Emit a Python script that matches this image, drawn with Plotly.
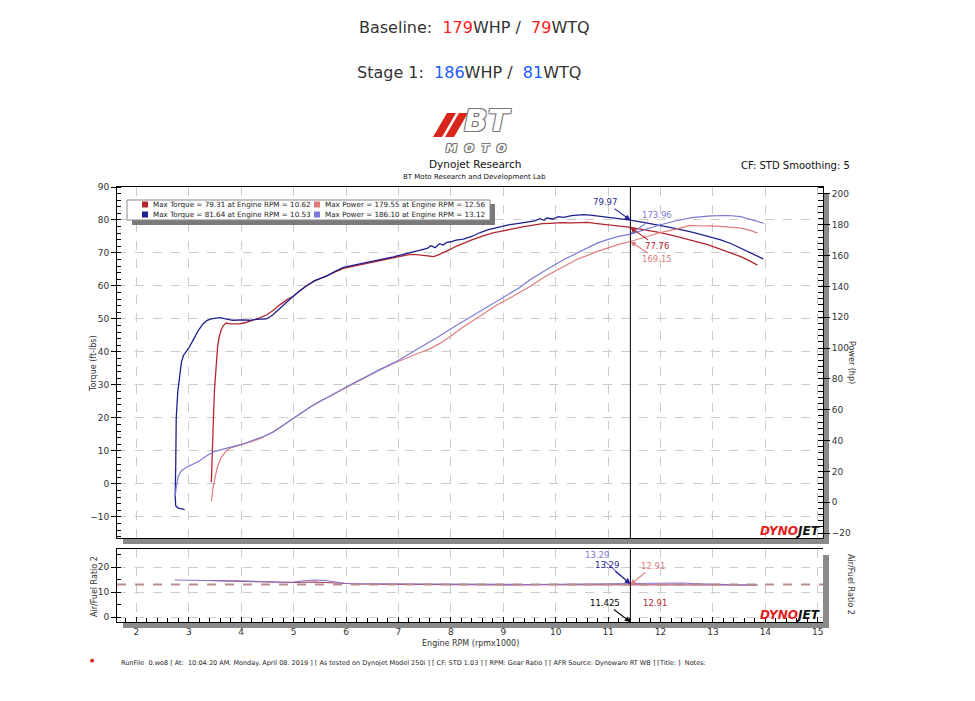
import plotly.graph_objects as go

# ---------------- DATA ----------------
s1_tq_rpm = [2.92, 2.86, 2.79, 2.75, 2.74, 2.75, 2.76, 2.79, 2.82, 2.86, 2.90, 3.00, 3.08, 3.18, 3.27, 3.35, 3.43, 3.59, 3.70, 3.84,
             4.00, 4.16, 4.30, 4.48, 4.60, 4.72, 4.85, 4.95, 5.10, 5.24, 5.40, 5.63, 5.80, 5.95, 6.15, 6.33, 6.50, 6.71, 6.90, 7.09,
             7.20, 7.35, 7.45, 7.55, 7.62, 7.70, 7.78, 7.85, 7.92, 8.00, 8.10, 8.24, 8.40, 8.56, 8.70, 8.88, 9.10, 9.39, 9.60, 9.70,
             9.78, 9.83, 9.95, 10.05, 10.15, 10.30, 10.53, 10.70, 10.92, 11.20, 11.425, 11.70, 12.00, 12.30, 12.64, 12.90, 13.15,
             13.35, 13.53, 13.75, 13.96]
s1_tq = [-7.8, -7.6, -7.3, -6.6, -3.5, 5.0, 20.0, 28.0, 32.6, 37.0, 39.0, 41.2, 43.5, 46.5, 48.5, 49.6, 50.0, 50.4, 50.0, 49.6,
         49.7, 49.6, 49.9, 50.0, 51.2, 53.0, 55.0, 56.3, 58.3, 60.0, 61.6, 63.0, 64.5, 65.6, 66.3, 66.9, 67.4, 68.1, 68.8, 69.6,
         70.0, 70.6, 71.1, 71.4, 72.2, 71.6, 72.8, 72.4, 73.2, 73.4, 73.9, 74.2, 75.0, 76.2, 77.0, 77.7, 78.5, 79.2, 79.7, 80.4,
         79.9, 80.6, 80.3, 81.0, 80.8, 81.3, 81.6, 81.4, 81.0, 80.5, 79.97, 79.2, 78.4, 77.4, 76.2, 75.1, 74.0,
         72.8, 71.4, 69.8, 68.2]

base_tq_rpm = [3.43, 3.44, 3.46, 3.47, 3.49, 3.52, 3.55, 3.58, 3.62, 3.66, 3.71, 3.80, 3.97, 4.10, 4.22, 4.35, 4.48, 4.60, 4.73, 4.86,
               4.99, 5.10, 5.24, 5.40, 5.63, 5.80, 5.95, 6.15, 6.33, 6.50, 6.71, 6.84, 7.00, 7.22, 7.35, 7.47, 7.57, 7.67, 7.76, 7.86,
               7.98, 8.11, 8.25, 8.40, 8.62, 8.80, 9.00, 9.20, 9.39, 9.60, 9.75, 9.90, 10.10, 10.30, 10.47, 10.62, 10.75, 10.92, 11.15,
               11.425, 11.70, 12.00, 12.30, 12.64, 12.90, 13.15, 13.35, 13.53, 13.70, 13.85]
base_tq = [0.5, 8.0, 13.4, 20.0, 28.6, 36.0, 41.7, 44.5, 46.8, 48.0, 48.8, 48.5, 48.5, 49.0, 49.6, 50.3, 51.2, 52.5, 54.2, 55.7,
           56.9, 58.3, 60.0, 61.5, 63.0, 64.3, 65.3, 66.0, 66.6, 67.2, 67.8, 68.3, 69.0, 69.6, 69.5, 69.3, 69.0, 68.9, 69.4, 70.1,
           71.0, 72.1, 73.1, 74.0, 75.2, 76.1, 76.7, 77.4, 78.0, 78.5, 78.9, 79.0, 79.2, 79.1, 79.2, 79.3, 79.0, 78.7, 78.2,
           77.76, 77.0, 76.2, 75.0, 73.7, 72.5, 71.1, 70.0, 68.9, 67.6, 66.3]

s1_hp_rpm = [2.74, 2.76, 2.80, 2.86, 2.95, 3.08, 3.20, 3.33, 3.46, 3.60, 3.78, 3.95, 4.10, 4.25, 4.41, 4.60, 4.80, 5.05, 5.30, 5.50,
             5.69, 6.00, 6.33, 6.65, 6.97, 7.30, 7.45, 7.60, 7.80, 8.00, 8.24, 8.50, 8.88, 9.10, 9.30, 9.51, 9.70, 9.90, 10.15, 10.40,
             10.60, 10.79, 11.00, 11.20, 11.425, 11.70, 12.00, 12.30, 12.60, 12.96, 13.12, 13.30, 13.53, 13.75, 13.97]
s1_hp = [4.0, 10.0, 17.0, 20.5, 22.5, 24.8, 26.7, 29.8, 32.6, 34.0, 35.4, 37.0, 38.6, 40.3, 42.5, 45.3, 50.0, 55.9, 61.5, 65.5,
         68.8, 74.8, 80.7, 86.2, 91.5, 98.0, 101.5, 104.4, 108.2, 112.5, 117.3, 122.5, 130.3, 135.0, 139.0, 144.3, 148.5, 152.5, 157.3, 161.5,
         165.0, 168.1, 170.5, 172.5, 173.96, 177.0, 180.0, 182.6, 184.6, 185.8, 186.1, 186.0, 185.3, 183.0, 181.0]

base_hp_rpm = [3.43, 3.44, 3.46, 3.50, 3.55, 3.62, 3.71, 3.80, 3.95, 4.10, 4.25, 4.41, 4.60, 4.80, 5.05, 5.30, 5.50, 5.69, 6.00, 6.33,
               6.65, 6.97, 7.20, 7.40, 7.60, 7.80, 8.00, 8.24, 8.50, 8.88, 9.10, 9.30, 9.51, 9.80, 10.15, 10.40, 10.62, 10.79, 11.00,
               11.20, 11.425, 11.70, 12.00, 12.30, 12.56, 12.80, 12.96, 13.20, 13.53, 13.70, 13.85]
base_hp = [0.8, 5.0, 9.0, 16.0, 23.5, 29.0, 33.2, 35.3, 36.8, 38.2, 40.0, 42.0, 45.5, 50.0, 55.8, 61.3, 65.4, 68.8, 74.8, 80.5,
           85.9, 91.0, 94.3, 97.0, 99.5, 103.2, 107.8, 113.8, 119.5, 128.0, 132.0, 136.0, 140.0, 146.5, 153.0, 157.5, 160.3, 162.7, 165.0,
           167.3, 169.15, 172.0, 175.0, 177.2, 179.55, 179.2, 179.3, 178.8, 177.8, 176.5, 174.6]

s1_afr_rpm = [2.73, 3.0, 3.5, 4.0, 4.4, 4.73, 5.0, 5.2, 5.4, 5.6, 5.8, 6.0, 6.5, 7.0, 7.5, 8.0, 8.5, 9.0, 9.5, 10.0, 10.5, 11.0,
              11.425, 11.7, 12.0, 12.4, 12.6, 13.0, 13.3, 13.6, 13.85]
s1_afr = [14.8, 14.7, 14.7, 14.6, 14.2, 13.9, 14.0, 14.5, 14.8, 14.6, 13.9, 13.4, 13.3, 13.2, 13.3, 13.2, 13.0, 13.1, 13.0, 13.1, 13.2, 13.3,
          13.29, 13.5, 13.6, 13.6, 13.4, 13.1, 12.9, 12.8, 12.8]

base_afr_rpm = [3.43, 3.8, 4.2, 4.6, 5.0, 5.4, 5.8, 6.2, 6.7, 7.2, 7.7, 8.2, 8.7, 9.2, 9.7, 10.2, 10.7, 11.0, 11.425, 11.8, 12.2,
                12.6, 13.0, 13.4, 13.85]
base_afr = [14.6, 14.5, 14.3, 14.0, 13.8, 14.0, 13.6, 13.2, 13.1, 13.0, 12.9, 12.9, 12.9, 12.8, 12.9, 12.9, 12.9, 13.0, 12.91, 13.0, 13.0,
            13.1, 13.0, 12.9, 12.8]

afr_target = 13.0
cursor_rpm = 11.425
cursor_vals = {"s1_tq": 79.97, "s1_hp": 173.96, "base_tq": 77.76, "base_hp": 169.15, "s1_afr": 13.29, "base_afr": 12.91}

legend_rows = [
    ("Max Torque = 79.31 at Engine RPM = 10.62", "Max Power = 179.55 at Engine RPM = 12.56"),
    ("Max Torque = 81.64 at Engine RPM = 10.53", "Max Power = 186.10 at Engine RPM = 13.12"),
]
x_ticks = list(range(2, 16))

# ---------------- STYLE ----------------
C_S1_TQ = "#1f1f8f"
C_S1_HP = "#7a7ad4"
C_B_TQ = "#b3262e"
C_B_HP = "#e07c7c"
C_S1_AFR = "#8a72c8"
C_B_AFR = "#a83556"
C_TARGET = "#b88c8c"
FONT = "DejaVu Sans"
TXT = "#333333"

# page body has an 8px margin; work in reference pixel coordinates and shift
OFF = 8
W, H = 975, 701
FRAME_L, FRAME_R, FRAME_T, FRAME_B = 117, 823, 187, 622   # reference pixels
ML = FRAME_L - OFF
MT = FRAME_T - OFF
MR = W - (FRAME_R - OFF)
MB = H - (FRAME_B - OFF)
PW = W - ML - MR
PH = H - MT - MB


def px(xp):
    return (xp - FRAME_L) / PW


def py(yp):
    return (FRAME_B - yp) / PH


fig = go.Figure()

fig.add_trace(go.Scatter(x=base_tq_rpm, y=base_tq, xaxis="x", yaxis="y", mode="lines",
                         line=dict(color=C_B_TQ, width=1.3)))
fig.add_trace(go.Scatter(x=s1_tq_rpm, y=s1_tq, xaxis="x", yaxis="y", mode="lines",
                         line=dict(color=C_S1_TQ, width=1.3)))
fig.add_trace(go.Scatter(x=base_hp_rpm, y=base_hp, xaxis="x", yaxis="y2", mode="lines",
                         line=dict(color=C_B_HP, width=1.2)))
fig.add_trace(go.Scatter(x=s1_hp_rpm, y=s1_hp, xaxis="x", yaxis="y2", mode="lines",
                         line=dict(color=C_S1_HP, width=1.2)))
fig.add_trace(go.Scatter(x=base_afr_rpm, y=base_afr, xaxis="x2", yaxis="y3", mode="lines",
                         line=dict(color=C_B_AFR, width=1.2)))
fig.add_trace(go.Scatter(x=s1_afr_rpm, y=s1_afr, xaxis="x2", yaxis="y3", mode="lines",
                         line=dict(color=C_S1_AFR, width=1.2)))

XR = [1.63, 15.1]
main_bottom = py(538)
afr_top = py(549)

grid = dict(showgrid=True, gridcolor="#cccccc", griddash="dash", gridwidth=1)
axline = dict(showline=True, linecolor="black", linewidth=1, zeroline=False)
tickf = dict(family=FONT, size=9, color=TXT)

fig.update_layout(
    width=W, height=H,
    margin=dict(l=ML, r=MR, t=MT, b=MB),
    paper_bgcolor="white", plot_bgcolor="white",
    showlegend=False, hovermode=False,
    xaxis=dict(domain=[0, 1], anchor="y", range=XR, tick0=2, dtick=1, showticklabels=False,
               ticks="", mirror=True, **grid, **axline),
    yaxis=dict(domain=[main_bottom, 1], anchor="x", range=[-16.4, 90], dtick=10, tick0=0,
               ticks="outside", ticklen=5, tickcolor="black", tickfont=tickf,
               minor=dict(dtick=2, ticks="inside", ticklen=4, tickcolor="black", showgrid=False),
               **grid, **axline),
    yaxis2=dict(overlaying="y", side="right", anchor="x", range=[-23.2, 204.5], dtick=20, tick0=0,
                ticks="outside", ticklen=6, tickcolor="black", tickfont=tickf, showgrid=False,
                minor=dict(dtick=4, ticks="inside", ticklen=5, tickcolor="black"),
                **axline),
    xaxis2=dict(domain=[0, 1], anchor="y3", range=XR, tick0=2, dtick=1, tickvals=x_ticks,
                ticks="inside", ticklen=5, tickcolor="black", tickfont=tickf, ticklabelstandoff=1,
                minor=dict(dtick=0.2, ticks="inside", ticklen=4, tickcolor="black", showgrid=False),
                mirror=True, **grid, **axline),
    yaxis3=dict(domain=[0, afr_top], anchor="x2", range=[-2.0, 27.2], dtick=10, tick0=0,
                ticks="outside", ticklen=5, tickcolor="black", tickfont=tickf,
                minor=dict(dtick=5, ticks="inside", ticklen=4, tickcolor="black", showgrid=False),
                **grid, **axline),
    yaxis4=dict(overlaying="y3", side="right", anchor="x2", range=[-2.0, 27.2], dtick=10, tick0=0,
                ticks="outside", ticklen=6, tickcolor="black", tickfont=tickf, showgrid=False,
                minor=dict(dtick=5, ticks="inside", ticklen=5, tickcolor="black"),
                **axline),
)

shapes = []
# drop shadows of plot frames
SH = "#8a8a8a"
for (top, bot) in [(187, 538), (549, 622)]:
    shapes.append(dict(type="rect", xref="paper", yref="paper", x0=px(823), x1=px(829), y0=py(top + 6), y1=py(bot + 6),
                       fillcolor=SH, line=dict(width=0), layer="below"))
    shapes.append(dict(type="rect", xref="paper", yref="paper", x0=px(123), x1=px(829), y0=py(bot), y1=py(bot + 6),
                       fillcolor=SH, line=dict(width=0), layer="below"))
# target AFR dashed line
shapes.append(dict(type="line", xref="x2 domain", yref="y3", x0=0, x1=1, y0=afr_target, y1=afr_target,
                   line=dict(color=C_TARGET, width=2, dash="dash")))
# cursor lines
shapes.append(dict(type="line", xref="x", yref="y domain", x0=cursor_rpm, x1=cursor_rpm, y0=0, y1=1,
                   line=dict(color="black", width=1)))
shapes.append(dict(type="line", xref="x2", yref="y3 domain", x0=cursor_rpm, x1=cursor_rpm, y0=0, y1=1,
                   line=dict(color="black", width=1)))
# legend box with shadow
shapes.append(dict(type="rect", xref="paper", yref="paper", x0=px(132), x1=px(495), y0=py(225), y1=py(204),
                   fillcolor="#7a7a7a", line=dict(width=0)))
shapes.append(dict(type="rect", xref="paper", yref="paper", x0=px(127), x1=px(490), y0=py(220), y1=py(200),
                   fillcolor="white", line=dict(color="#888888", width=1)))
sq_cols = [(C_B_TQ, C_B_HP), (C_S1_TQ, C_S1_HP)]
row_y = [204.5, 214.5]
for r in range(2):
    for c, sx in enumerate([145, 317]):
        shapes.append(dict(type="rect", xref="paper", yref="paper", x0=px(sx - 3), x1=px(sx + 3),
                           y0=py(row_y[r] + 3), y1=py(row_y[r] - 3), fillcolor=sq_cols[r][c], line=dict(width=0)))
# logo bars
for off in [0, 12]:
    x0b, x1b = 433 + off, 442 + off
    t0, t1 = 447 + off, 456 + off
    path = (f"M {px(x0b)} {py(137)} L {px(x1b)} {py(137)} L {px(t1)} {py(113)} L {px(t0)} {py(113)} Z")
    shapes.append(dict(type="path", xref="paper", yref="paper", path=path, fillcolor="#d9261c", line=dict(width=0)))
fig.update_layout(shapes=shapes)

ann = []


def txt(x, y, text, size=9, color=TXT, xanchor="center", yanchor="middle", angle=0, **kw):
    ann.append(dict(xref="paper", yref="paper", x=px(x), y=py(y), text=text, showarrow=False,
                    xanchor=xanchor, yanchor=yanchor, textangle=angle,
                    font=dict(family=FONT, size=size, color=color, **kw)))


RED = "#ff1a1a"
BLUE = "#1a5cff"
txt(475, 27, f"Baseline:&nbsp;&nbsp;<span style='color:{RED}'>179</span>WHP /&nbsp;&nbsp;<span style='color:{RED}'>79</span>WTQ", size=16)
txt(469, 72, f"Stage 1:&nbsp;&nbsp;<span style='color:{BLUE}'>186</span>WHP /&nbsp;&nbsp;<span style='color:{BLUE}'>81</span>WTQ", size=16)
# logo text
outline = "1px 1px 0 #777, -1px -1px 0 #777, 1px -1px 0 #777, -1px 1px 0 #777"
txt(488, 140, "BT", size=31, color="white", weight="bold", style="italic", shadow=outline, yanchor="bottom")
txt(476, 140, "M&nbsp;&nbsp;O&nbsp;&nbsp;T&nbsp;&nbsp;O", size=11, color="white", weight="bold", style="italic",
    shadow=outline, yanchor="top")
txt(475, 164, "Dynojet Research", size=10.5, color="#111")
txt(475, 177, "BT Moto Research and Development Lab", size=7, color="#111")
txt(795, 165, "CF: STD Smoothing: 5", size=10, color="#111")

# legend texts
for r in range(2):
    txt(151, row_y[r], legend_rows[r][0], size=7.2, color="#222", xanchor="left")
    txt(323, row_y[r], legend_rows[r][1], size=7.2, color="#222", xanchor="left")

# axis titles
txt(93, 364, "Torque (ft-lbs)", size=8, angle=-90)
txt(852, 363, "Power (hp)", size=8, angle=90)
txt(94, 587, "Air/Fuel Ratio 2", size=8, angle=-90)
txt(851, 584, "Air/Fuel Ratio 2", size=8, angle=90)
txt(470, 643, "Engine RPM (rpmx1000)", size=8)

# dynojet logos
for yb in [540, 624]:
    txt(822, yb, "<span style='color:#e3211b'>DYNO</span>JET", size=12, color="#111", xanchor="right",
        yanchor="bottom", weight="bold", style="italic")

# footer
txt(92, 660, "●", size=5, color="#e02020")
txt(119, 663, "RunFile  0.wo8 [ At:  10:04:20 AM. Monday. April 08. 2019 ] [ As tested on Dynojet Model 250i ] [ CF: STD 1.03 ] "
              "[ RPM: Gear Ratio ] [ AFR Source: Dynoware RT WB ] [Title: ]  Notes:", size=6.5, color="#222", xanchor="left")


def arrow(yref, yval, text, color, ax, ay, xref="x"):
    ann.append(dict(xref=xref, yref=yref, x=cursor_rpm, y=yval, text=text, showarrow=True,
                    arrowhead=2, arrowsize=1, arrowwidth=1.1, arrowcolor=color, ax=ax, ay=ay, standoff=0,
                    font=dict(family=FONT, size=8.5, color=color)))


arrow("y", cursor_vals["s1_tq"], "79.97", C_S1_TQ, -25, -18)
arrow("y2", cursor_vals["s1_hp"], "173.96", C_S1_HP, 27, -19)
arrow("y", cursor_vals["base_tq"], "77.76", C_B_TQ, 27, 19)
arrow("y2", cursor_vals["base_hp"], "169.15", C_B_HP, 27, 18)
arrow("y3", cursor_vals["s1_afr"], "13.29", C_S1_HP, -33, -29, xref="x2")
arrow("y3", cursor_vals["s1_afr"], "13.29", C_S1_TQ, -23, -19, xref="x2")
arrow("y3", cursor_vals["base_afr"], "12.91", C_B_HP, 23, -19, xref="x2")
arrow("y3", cursor_vals["base_afr"], "12.91", C_B_TQ, 25, 18, xref="x2")
arrow("y3", -2.0, "11.425", "black", -25, -19, xref="x2")

fig.update_layout(annotations=ann)
fig.write_html("out.html")
